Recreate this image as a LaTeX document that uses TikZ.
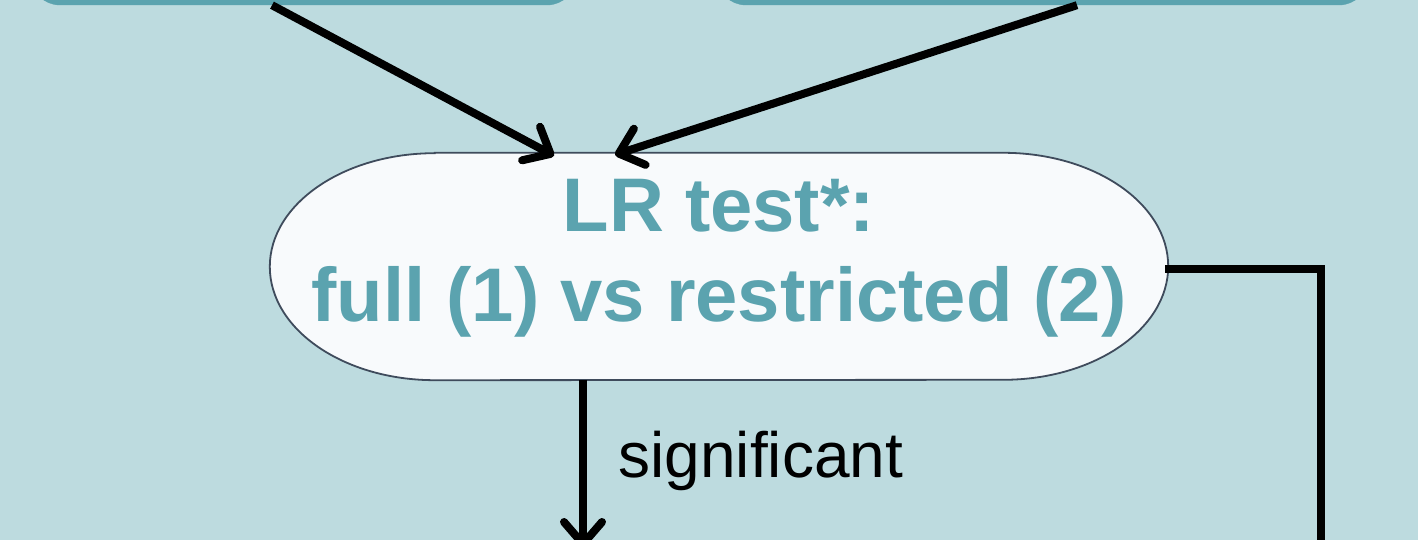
\documentclass[tikz,border=0pt]{standalone}
\usepackage{fontspec}
\setmainfont{Liberation Sans}
\usepackage{tikz}
\usetikzlibrary{arrows.meta,positioning}

\definecolor{bgteal}{HTML}{BDDBDF}
\definecolor{boxteal}{HTML}{5BA3AF}
\definecolor{lrfill}{HTML}{F8FAFC}
\definecolor{lrline}{HTML}{3F4B5C}

\begin{document}
\begin{tikzpicture}[x=1pt,y=1pt]

\tikzset{modelbox/.style={fill=boxteal, draw=boxteal, rounded corners=29pt, minimum height=100pt, inner sep=0pt},
         lrshape/.style={fill=lrfill, draw=lrline, line width=1.8pt},
         flow/.style={line width=8pt, -{Straight Barb[length=22pt, width=38pt, line cap=round, line join=round]}},
         plain/.style={line width=8pt, line join=miter}}

\useasboundingbox (0,0) rectangle (1418,540);
\clip (0,0) rectangle (1418,540);
\fill[bgteal] (0,0) rectangle (1418,540);

\node[modelbox, minimum width=545pt] (modelA) at (303.5,585) {};
\node[modelbox, minimum width=651pt] (modelB) at (1042.5,585) {};

\node[minimum width=898pt, minimum height=227pt, inner sep=0pt] (lrtest) at (719,273.5) {};
\draw[lrshape] ([xshift=165pt]lrtest.north west) -- ([xshift=-165pt]lrtest.north east)
    arc[start angle=90, end angle=-90, x radius=165pt, y radius=113.5pt]
    -- ([xshift=165pt]lrtest.south west)
    arc[start angle=270, end angle=90, x radius=165pt, y radius=113.5pt] -- cycle;
\node[align=center, text=boxteal, font=\bfseries\fontsize{76}{90}\selectfont] (lrlabel)
    at ([yshift=8pt]lrtest.center) {LR test*:\\full (1) vs restricted (2)};

\coordinate (sigend) at (583,-8);
\coordinate (nsend) at (1320.5,-12);

\draw[flow] ([xshift=-31.5pt]modelA.south) -- ([xshift=-165pt, yshift=-3pt]lrtest.north);
\draw[flow] ([xshift=34.5pt]modelB.south) -- ([xshift=-104pt, yshift=-2pt]lrtest.north);
\draw[flow] ([xshift=-136pt]lrtest.south) -- (sigend);
\draw[plain] ([xshift=-3pt, yshift=-2.5pt]lrtest.east) -| (nsend);

\node[anchor=base west, font=\fontsize{64}{76}\selectfont] (sig) at (615,62) {significant};

\end{tikzpicture}
\end{document}
